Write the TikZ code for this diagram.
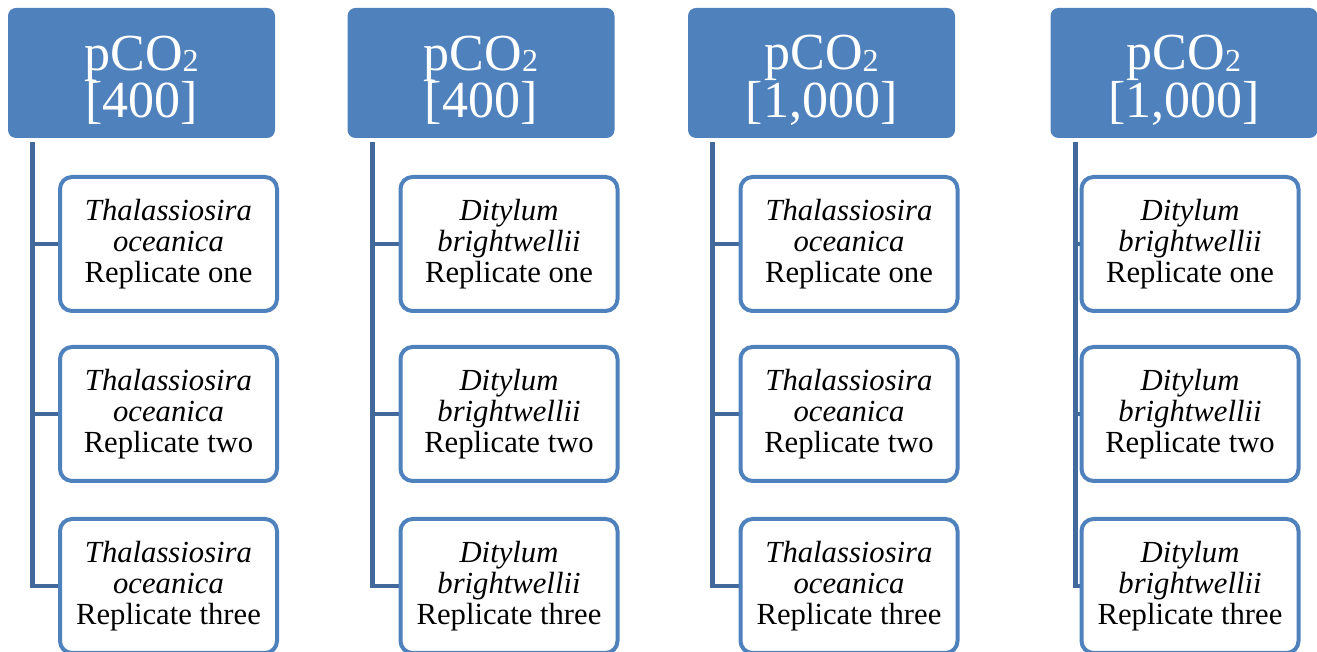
\documentclass[tikz,border=0pt]{standalone}
\usepackage{fontspec}
\setmainfont{Liberation Serif}
\usetikzlibrary{backgrounds}

\definecolor{headblue}{HTML}{4F81BD}
\definecolor{linkblue}{HTML}{41699C}

\lineskiplimit=-20pt

\tikzset{
  head/.style={fill=headblue, rounded corners=6pt, minimum width=200.25pt,
    minimum height=97.5pt, inner sep=0pt, text=white, align=center,
    font=\fontsize{39}{35.5}\selectfont},
  rep/.style={draw=headblue, line width=3pt, fill=white, rounded corners=9pt,
    minimum width=162.75pt, minimum height=100.5pt, inner sep=0pt, align=center,
    font=\fontsize{23}{23.25}\selectfont},
  link/.style={draw=linkblue, line width=3.5pt}
}

\newcommand{\pco}[1]{\rule{0pt}{37pt}pCO\raisebox{-1pt}{\fontsize{24}{24}\selectfont 2}\\{[}#1{]}}
\newcommand{\thal}{\textit{Thalassiosira}\\\textit{oceanica}\\}
\newcommand{\dity}{\textit{Ditylum}\\\textit{brightwellii}\\}

\begin{document}
\begin{tikzpicture}[x=0.75pt, y=0.75pt]
    \useasboundingbox (0,0) rectangle (1317,652);

    % Column 1
    \node[head] (h1) at (141.5,579) {\pco{400}};
    \node[rep] (r11) at (168.5,408) {\thal Replicate one};
    \node[rep] (r12) at (168.5,238) {\thal Replicate two};
    \node[rep] (r13) at (168.5,66) {\thal Replicate three};

    % Column 2
    \node[head] (h2) at (481,579) {\pco{400}};
    \node[rep] (r21) at (509,408) {\dity Replicate one};
    \node[rep] (r22) at (509,238) {\dity Replicate two};
    \node[rep] (r23) at (509,66) {\dity Replicate three};

    % Column 3
    \node[head] (h3) at (821.5,579) {\pco{1,000}};
    \node[rep] (r31) at (849,408) {\thal Replicate one};
    \node[rep] (r32) at (849,238) {\thal Replicate two};
    \node[rep] (r33) at (849,66) {\thal Replicate three};

    % Column 4
    \node[head] (h4) at (1184,579) {\pco{1,000}};
    \node[rep] (r41) at (1190,408) {\dity Replicate one};
    \node[rep] (r42) at (1190,238) {\dity Replicate two};
    \node[rep] (r43) at (1190,66) {\dity Replicate three};

    % tree lines
    \begin{scope}[on background layer]
    \coordinate (t1) at ([xshift=18.75pt, yshift=-3pt]h1.south west);
    \draw[link] (t1) |- (r13.west);
    \draw[link] (t1 |- r11.west) -- (r11.west);
    \draw[link] (t1 |- r12.west) -- (r12.west);

    \coordinate (t2) at ([xshift=18.75pt, yshift=-3pt]h2.south west);
    \draw[link] (t2) |- (r23.west);
    \draw[link] (t2 |- r21.west) -- (r21.west);
    \draw[link] (t2 |- r22.west) -- (r22.west);

    \coordinate (t3) at ([xshift=18.75pt, yshift=-3pt]h3.south west);
    \draw[link] (t3) |- (r33.west);
    \draw[link] (t3 |- r31.west) -- (r31.west);
    \draw[link] (t3 |- r32.west) -- (r32.west);

    \coordinate (t4) at ([xshift=18.75pt, yshift=-3pt]h4.south west);
    \draw[link] (t4) |- (r43.west);
    \draw[link] (t4 |- r41.west) -- (r41.west);
    \draw[link] (t4 |- r42.west) -- (r42.west);
    \end{scope}
\end{tikzpicture}
\end{document}
